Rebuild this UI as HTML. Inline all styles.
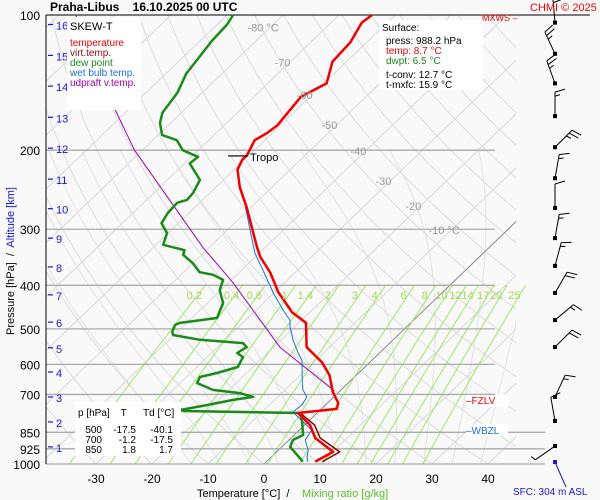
<!DOCTYPE html>
<html><head><meta charset="utf-8"><style>
html,body{margin:0;padding:0;background:#fff}
svg{display:block;font-family:"Liberation Sans",sans-serif}
text{white-space:pre}
</style></head><body>
<svg id="c" width="600" height="500" viewBox="0 0 600 500" xmlns="http://www.w3.org/2000/svg">
<rect x="0" y="0" width="600" height="500" fill="#f9f9f9"/>
<defs><clipPath id="pc"><rect x="46" y="15" width="470" height="449"/></clipPath>
<clipPath id="pc2"><rect x="46" y="15" width="500" height="449"/></clipPath></defs>
<g id="bg" clip-path="url(#pc)"></g>
<g id="mix" clip-path="url(#pc2)"></g>
<g id="iso"></g>
<g id="series"></g>
<g id="wind"></g>
<g id="txt"></g>
</svg>
<script>
// ---- data ----
const tempP = [988,940,875,819,770,754,731,691,634,593,549,485,459,414,375,346,329,268,242,221,210,205,190,183,176,165,152,142,127,115,104,100];
const tempT = [8.7,10.1,4.3,1.0,-3.4,2.8,1.9,-1.1,-4.8,-8.6,-14.1,-18.7,-23.2,-29.4,-34.4,-39.1,-41.5,-50.8,-55.7,-59.4,-60.4,-60.4,-61.8,-60.9,-60.5,-61.0,-61.6,-59.5,-62.5,-62.9,-64.5,-64.1];
const virtP = [988,940,875,819,770];
const virtT = [10.0,11.3,5.2,1.8,-3.0];
const dewP = [988,916,884,862,810,770,762,758,739,720,709,695,684,660,640,627,608,578,566,549,538,529,516,508,490,485,473,438,410,389,379,374,357,342,334,325,306,291,276,262,258,249,233,214,207,200,190,185,174,165,149,135,126,114,105,100];
const dewT = [6.5,1.5,0.7,1.6,-0.8,-3.0,-24.3,-25.0,-21.1,-17.4,-14.4,-17.5,-22.9,-27.0,-27.6,-25.3,-22.7,-23.6,-25.4,-24.8,-26.2,-34.5,-40.2,-40.9,-41.7,-41.2,-35.5,-37.2,-40.2,-41.5,-44.2,-47.1,-50.0,-53.3,-53.9,-58.7,-60.2,-63.0,-63.8,-64.0,-62.8,-63.0,-64.2,-69.1,-68.8,-72.8,-75.7,-79.3,-81.9,-83.4,-84.4,-86.4,-87.0,-87.9,-88.2,-88.9];
const wetP = [988,965,931,884,840,766,739,709,684,660,587,566,529,495,478,454,416,370,339,268];
const wetT = [7.4,6.4,5.3,2.9,2.2,-4.5,-4.2,-4.8,-6.8,-8.2,-12.5,-14.5,-17.9,-20.8,-22.1,-25.2,-30.1,-36.2,-40.8,-51.0];
const parP = [703,684,549,394,330,200,164,100];
const parT = [-0.1,-1.4,-18.9,-39.3,-51.0,-81.4,-91.9,-117];
const pressTicks = [100,200,300,400,500,600,700,850,925,1000];
const tempTicks = [-30,-20,-10,0,10,20,30,40];
const altKm = [1,2,3,4,5,6,7,8,9,10,11,12,13,14,15,16];
const altP = [916,806,709,624,551,483,420,364,314,270,232,198,169,144,123,105];
const mixVals = [0.2,0.4,0.6,1,1.4,2,3,4,6,8,10,12,14,17,20,25];
const isoLabelsT = [-80,-70,-60,-50,-40,-30,-20,-10];
const isoLabelsP = [106,127,150,175,200,233,265,300];
const windP = [104,122,142,168,197,231,269,314,362,416,478,549,709,802,912];
const windDir = [355,335,340,0,45,10,0,10,15,30,50,45,25,350,235];
const windSpd = [20,25,25,15,25,15,10,15,15,20,15,20,15,10,5];

// ---- axes ----
const NS='http://www.w3.org/2000/svg';
function yP(p){return 15+195*Math.log(p/100);}
function xT(t,p){return 264+5.6*t+1.04*(464-yP(p));}
function mk(tag,attrs,parent){const e=document.createElementNS(NS,tag);for(const k in attrs)e.setAttribute(k,attrs[k]);parent.appendChild(e);return e;}
const bg=document.getElementById('bg'),mix=document.getElementById('mix'),iso=document.getElementById('iso'),ser=document.getElementById('series'),wind=document.getElementById('wind'),txt=document.getElementById('txt');
function txtEl(x,y,s,opt,name){const e=mk('text',Object.assign({x:x,y:y,'font-size':11,fill:'#000'},opt||{}),txt);e.textContent=s;


return e;}

for(let t=-160;t<=50;t+=10){
 const l=mk('line',{x1:xT(t,1000),y1:yP(1000),x2:xT(t,100),y2:yP(100),stroke:'#d8d8d8','stroke-width':1},bg);
 
 
}
for(let th=-40;th<=200;th+=10){
 let d='';for(let p=1050;p>=100;p-=10){const t=(th+273.15)*Math.pow(p/1000,0.2857)-273.15;d+=(d?'L':'M')+xT(t,p).toFixed(1)+','+yP(p).toFixed(1);}
 const l=mk('path',{d:d,fill:'none',stroke:'#dcdcdc','stroke-width':1},bg);
 
 
}
function es(t){return 6.112*Math.exp(17.67*t/(t+243.5));}
for(let tw=-10;tw<=40;tw+=5){
 let t=tw,d='';
 for(let p=1050;p>=200;p-=5){
  d+=(d?'L':'M')+xT(t,p).toFixed(1)+','+yP(p).toFixed(1);
  const T=t+273.15,rs=0.622*es(t)/(p-es(t));
  const dTdp=(287*T+2.5e6*rs)/(1004+2.5e6*2.5e6*rs*0.622/(287*T*T))/p;
  t-=dTdp*5;
 }
 const l=mk('path',{d:d,fill:'none',stroke:'#e2e2e2','stroke-width':1},bg);
 
 
}
function tdW(w,p){const e=w*p/(622+w);const l=Math.log(e/6.112);return 243.5*l/(17.67-l);}
mixVals.forEach(w=>{
 let d='';for(let p=1000;p>=400;p-=20){d+=(d?'L':'M')+xT(tdW(w,p),p).toFixed(1)+','+yP(p).toFixed(1);}
 const l=mk('path',{d:d,fill:'none',stroke:'#9be86a','stroke-width':1},mix);
 
 
 txtEl(xT(tdW(w,400),400)-11,299,String(w),{fill:'#a6d85a','font-size':11,'text-anchor':'middle'},'mixing-ratio-label');
});
{const l=mk('line',{x1:xT(0,1000),y1:yP(1000),x2:xT(0,100),y2:yP(100),stroke:'#777','stroke-width':0.8,'clip-path':'url(#pc)'},bg);
 
 }
pressTicks.forEach(p=>{
 const y=yP(p);
 if(p>100){const l=mk('line',{x1:46,y1:y,x2:p>=850?545:495,y2:y,stroke:'#aaa','stroke-width':1.3},iso);
 
 }
 txtEl(40,y+5,String(p),{'font-size':12,'text-anchor':'end'},'pressure-tick-label');
});
{const a=mk('line',{x1:46,y1:15,x2:46,y2:464,stroke:'#000','stroke-width':1},iso);


const b=mk('line',{x1:46,y1:15,x2:590,y2:15,stroke:'#000','stroke-width':1},iso);

}
tempTicks.forEach(t=>{txtEl(xT(t,1000),483,String(t),{'font-size':12,'text-anchor':'middle'},'temperature-tick-label');});
isoLabelsT.forEach((t,i)=>{txtEl(xT(t,isoLabelsP[i])-8,yP(isoLabelsP[i])+5,(i==0||i==7)?t+' °C':String(t),{fill:'#999','font-size':11,'text-anchor':'middle'},'isotherm-label');});
altKm.forEach((k,i)=>{const y=yP(altP[i]);
 const l=mk('line',{x1:48,y1:y,x2:53,y2:y,stroke:'#1515e0','stroke-width':1.2},txt);
 
 
 txtEl(56,y+5,String(k),{fill:'#1515e0','font-size':11},'altitude-tick-label');});

function line(P,T,color,w,name){let d='';P.forEach((p,i)=>{d+=(i?'L':'M')+xT(T[i],p).toFixed(1)+','+yP(p).toFixed(1);});
 const l=mk('path',{d:d,fill:'none',stroke:color,'stroke-width':w,'stroke-linejoin':'round'},ser);
 
 }
line(parP,parT,'#a000b0',1,'updraft-vtemp-line');
line(virtP,virtT,'#8b0000',1.5,'virtual-temp-line');
line(wetP,wetT,'#1e6fe0',1,'wet-bulb-line');
line(dewP,dewT,'#1a8a1a',2.5,'dew-point-line');
line(tempP,tempT,'#f00000',2.5,'temperature-line');
{const y=yP(206);const l=mk('line',{x1:228,y1:y,x2:248,y2:y,stroke:'#000','stroke-width':1.2},ser);


txtEl(250,y+5,'Tropo',{'font-size':11},'tropopause-label');}

windP.forEach((p,i)=>{
 const x0=555,y0=yP(p),a=windDir[i]*Math.PI/180,L=24;
 const ux=Math.sin(a),uy=-Math.cos(a);
 const x1=x0+ux*L,y1=y0+uy*L;
 const g=mk('g',{},wind);
 
 
 mk('line',{x1:x0,y1:y0,x2:x1,y2:y1,stroke:'#000','stroke-width':1},g);
 mk('rect',{x:x0-2,y:y0-2,width:4,height:4,fill:'#000'},g);
 let s=windSpd[i],k=0;const px=-uy,py=ux;
 while(s>=10){const bx=x1-ux*k*4,by=y1-uy*k*4;mk('line',{x1:bx,y1:by,x2:bx+px*10+ux*3,y2:by+py*10+uy*3,stroke:'#000','stroke-width':1},g);s-=10;k++;}
 if(s>=5){const bx=x1-ux*k*4,by=y1-uy*k*4;mk('line',{x1:bx,y1:by,x2:bx+px*5+ux*1.5,y2:by+py*5+uy*1.5,stroke:'#000','stroke-width':1},g);}
});
{const g=mk('g',{},wind);


mk('rect',{x:553,y:460,width:4,height:4,fill:'#1515e0'},g);
mk('line',{x1:555,y1:462,x2:566,y2:487,stroke:'#1515e0','stroke-width':1},g);}

function box(x,y,w,h,name){const r=mk('rect',{x:x,y:y,width:w,height:h,fill:'#fff'},txt);}
box(67,17,74,93,'legend-box');
txtEl(70,30,'SKEW-T',{'font-size':11},'legend-title');
txtEl(70,46,'temperature',{fill:'#f00000','font-size':10},'legend-temperature');
txtEl(70,56,'virt.temp.',{fill:'#a01010','font-size':10},'legend-virt-temp');
txtEl(70,66,'dew point',{fill:'#1a8a1a','font-size':10},'legend-dew-point');
txtEl(70,76,'wet bulb temp.',{fill:'#1e6fe0','font-size':10},'legend-wet-bulb');
txtEl(70,86,'udpraft v.temp.',{fill:'#a000b0','font-size':10},'legend-updraft');
box(379,20,104,70,'surface-box');
txtEl(382,31,'Surface:',{'font-size':10},'surface-title');
txtEl(386,44,'press: 988.2 hPa',{'font-size':10},'surface-press');
txtEl(386,54,'temp: 8.7 °C',{fill:'#f00000','font-size':10},'surface-temp');
txtEl(386,64,'dwpt: 6.5 °C',{fill:'#1a8a1a','font-size':10},'surface-dwpt');
txtEl(386,78,'t-conv: 12.7 °C',{'font-size':10},'surface-tconv');
txtEl(386,88,'t-mxfc: 15.9 °C',{'font-size':10},'surface-tmxfc');
box(75,402,106,54,'data-table-box');
txtEl(78,416,'p [hPa]    T      Td [°C]',{'font-size':10},'table-header');
[['500','-17.5','-40.1'],['700','-1.2','-17.5'],['850','1.8','1.7']].forEach((r,i)=>{const y=433+i*10;
 txtEl(102,y,r[0],{'font-size':10,'text-anchor':'end'},'table-pressure');
 txtEl(136,y,r[1],{'font-size':10,'text-anchor':'end'},'table-temp');
 txtEl(173,y,r[2],{'font-size':10,'text-anchor':'end'},'table-dewpoint');});
txtEl(50,11,'Praha-Libus    16.10.2025 00 UTC',{'font-size':12,'font-weight':'bold'},'chart-title');
txtEl(530,11,'CHMI © 2025',{fill:'#f00','font-size':11},'copyright');
txtEl(482,21,'MXWS –',{fill:'#f00','font-size':9},'mxws-label');
box(466,395,42,12,'fzlv-bg');
txtEl(466,404,'–FZLV',{fill:'#f00','font-size':10},'fzlv-label');
box(466,424,42,12,'wbzl-bg');
txtEl(466,434,'–WBZL',{fill:'#1e6fe0','font-size':10},'wbzl-label');
txtEl(197,497,'Temperature [°C]  /',{'font-size':11},'x-axis-title');
txtEl(302,497,'Mixing ratio [g/kg]',{fill:'#5ac02a','font-size':11},'mixing-ratio-axis-title');
txtEl(513,495,'SFC: 304 m ASL',{fill:'#1515e0','font-size':10},'surface-altitude-label');
{const t=txtEl(0,0,'Pressure [hPa]  /  ',{'font-size':11,transform:'translate(14,335) rotate(-90)'},'y-axis-title');
 const s=mk('tspan',{fill:'#1515e0'},t);s.textContent='Altitude [km]';
 
 }
</script>
</body></html>
